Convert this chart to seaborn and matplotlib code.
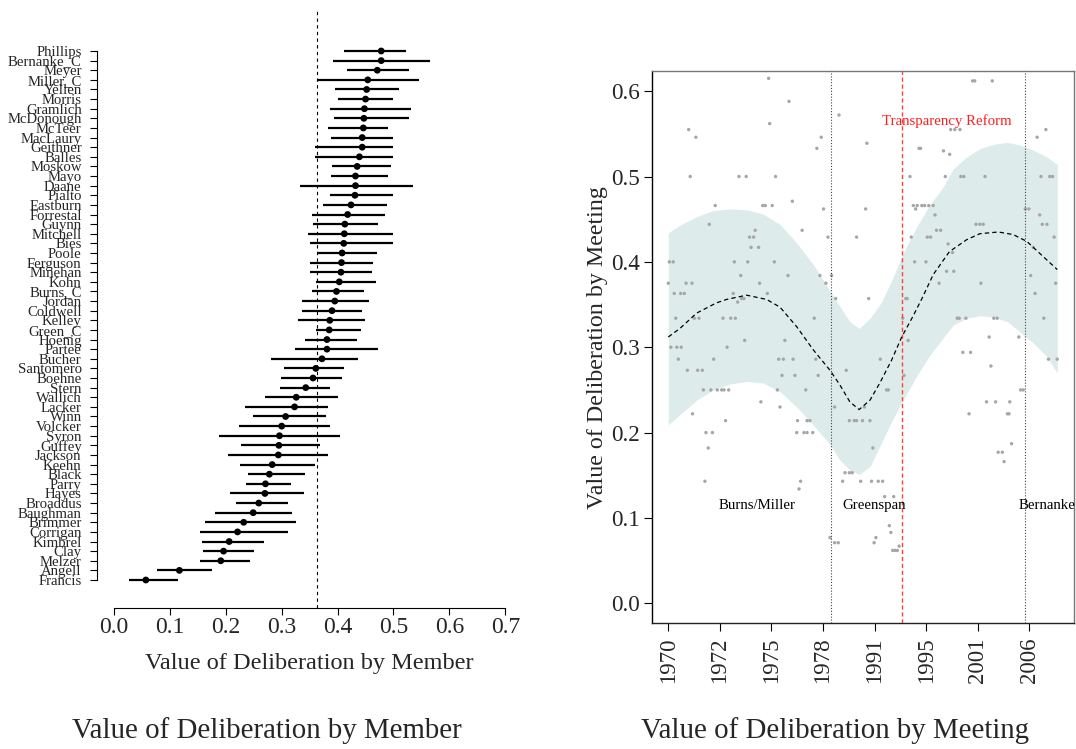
import numpy as np
import pandas as pd
import matplotlib
matplotlib.use("Agg")
import matplotlib.pyplot as plt
import seaborn as sns

# ---------------- data: left panel (members) ----------------
names = ["Phillips", "Bernanke_C", "Meyer", "Miller_C", "Yellen", "Morris", "Gramlich",
         "McDonough", "McTeer", "MacLaury", "Geithner", "Balles", "Moskow", "Mayo", "Daane",
         "Pialto", "Eastburn", "Forrestal", "Guynn", "Mitchell", "Bies", "Poole", "Ferguson",
         "Minehan", "Kohn", "Burns_C", "Jordan", "Coldwell", "Kelley", "Green_C", "Hoenig",
         "Partee", "Bucher", "Santomero", "Boehne", "Stern", "Wallich", "Lacker", "Winn",
         "Volcker", "Syron", "Guffey", "Jackson", "Keehn", "Black", "Parry", "Hayes",
         "Broaddus", "Baughman", "Brimmer", "Corrigan", "Kimbrel", "Clay", "Melzer",
         "Angell", "Francis"]
member_est = [0.478, 0.478, 0.471, 0.454, 0.452, 0.450, 0.448, 0.447, 0.446, 0.444,
              0.444, 0.439, 0.435, 0.432, 0.432, 0.431, 0.424, 0.418, 0.413, 0.412,
              0.411, 0.408, 0.407, 0.406, 0.403, 0.398, 0.395, 0.390, 0.386, 0.385,
              0.381, 0.381, 0.372, 0.361, 0.356, 0.343, 0.326, 0.323, 0.307, 0.300,
              0.296, 0.295, 0.294, 0.283, 0.278, 0.271, 0.270, 0.259, 0.249, 0.232,
              0.221, 0.206, 0.196, 0.191, 0.117, 0.057]
member_low = [0.412, 0.391, 0.416, 0.364, 0.396, 0.401, 0.387, 0.394, 0.382, 0.388,
              0.360, 0.359, 0.390, 0.388, 0.332, 0.386, 0.374, 0.354, 0.356, 0.347,
              0.351, 0.364, 0.351, 0.350, 0.361, 0.355, 0.337, 0.336, 0.329, 0.361,
              0.342, 0.323, 0.280, 0.304, 0.299, 0.297, 0.271, 0.234, 0.249, 0.224,
              0.188, 0.228, 0.204, 0.225, 0.239, 0.236, 0.208, 0.219, 0.181, 0.162,
              0.154, 0.157, 0.159, 0.153, 0.077, 0.027]
member_high = [0.522, 0.566, 0.528, 0.546, 0.510, 0.500, 0.531, 0.527, 0.490, 0.500,
               0.500, 0.500, 0.495, 0.490, 0.534, 0.500, 0.488, 0.484, 0.472, 0.500,
               0.500, 0.470, 0.463, 0.462, 0.468, 0.448, 0.456, 0.444, 0.449, 0.442,
               0.435, 0.472, 0.436, 0.411, 0.408, 0.386, 0.401, 0.383, 0.379, 0.386,
               0.404, 0.369, 0.383, 0.360, 0.342, 0.316, 0.340, 0.312, 0.318, 0.326,
               0.311, 0.268, 0.250, 0.243, 0.176, 0.114]
member_mean_line = 0.364
member_ticks = [0.0, 0.1, 0.2, 0.3, 0.4, 0.5, 0.6, 0.7]

# ---------------- data: right panel (meetings) ----------------
meeting_x = [38.9, 46.8, 39.3, 7.9, 10.7, 59.3, 57.6, 8.5, 27.4, 30.2, 41.6, 18.2, 36.6, 37.6,
             40.3, 48.1, 60.2, 15.9, 33.7, 51.9, 31.5, 33.1, 61.9, 32.1, 35.0, 0.4, 1.9, 25.6,
             30.8, 41.1, 28.1, 46.4, 58.8, 0.0, 6.9, 9.2, 35.4, 61.1, 2.3, 4.8, 6.2, 25.2, 38.4,
             28.4, 29.3, 26.9,
             2.9, 10.1, 11.9, 21.2, 24.2, 26.0, 56.6, 29.6, 45.2, 1.0, 3.3, 5.0, 22.8, 3.9, 17.6,
             42.8, 44.6, 48.4, 57.2, 7.4, 11.4, 13.2, 44.1, 49.1, 58.1, 13.6, 16.5, 19.0, 20.7,
             21.6, 23.4, 42.3, 53.3, 35.9, 43.3, 9.4, 22.2, 50.1, 53.8, 54.9, 14.6, 17.1, 49.8,
             52.6, 53.8, 56.0, 15.5, 14.2, 51.3, 50.7, 62.7,
             118.0, 118.8, 125.6, 66.2, 109.5, 111.1, 113.1, 146.4, 143.0, 77.0, 97.2, 97.8,
             106.7, 109.1, 93.7, 107.4, 113.4, 114.6, 122.8, 144.5, 147.9, 149.0, 76.5, 95.0,
             96.5, 98.3, 99.4, 101.0, 102.7, 95.9, 103.4, 138.4, 139.8, 144.0, 119.3, 120.8,
             122.1, 145.0, 146.8, 104.0, 105.6, 73.0, 94.2, 100.4, 101.7, 149.6, 108.5, 110.2,
             141.5, 95.5, 99.9, 107.9, 110.7, 140.5, 105.0, 121.2, 150.2, 63.3, 142.2, 64.9,
             77.7, 92.1, 92.6,
             112.0, 112.8, 115.4, 126.2, 127.5, 145.6, 90.9, 93.0, 124.4, 135.9, 114.2, 117.2,
             147.4, 150.8, 82.2, 125.1, 69.0, 91.4, 84.6, 85.3, 136.6, 137.6, 123.4, 126.9,
             132.4, 64.5, 76.0, 116.6, 131.5, 132.1, 70.2, 72.1, 73.0, 75.3, 78.2, 133.1, 79.3,
             127.9, 129.5, 130.2, 68.5, 70.2, 71.3, 67.6, 74.6, 78.8, 81.4, 83.1, 83.9, 87.4,
             85.7, 86.3, 64.5, 65.9, 80.5, 79.8, 89.5, 87.0, 87.9, 88.8]
meeting_val = [0.615, 0.588, 0.562, 0.555, 0.546, 0.546, 0.533, 0.500, 0.500, 0.500, 0.500,
               0.466, 0.466, 0.466, 0.466, 0.471, 0.462, 0.444, 0.437, 0.437, 0.429, 0.429,
               0.429, 0.417, 0.417, 0.400, 0.400, 0.400, 0.400, 0.400, 0.384, 0.384, 0.384,
               0.375, 0.375, 0.375, 0.375, 0.375, 0.363, 0.363, 0.363, 0.363, 0.363, 0.357,
               0.357, 0.353,
               0.334, 0.334, 0.334, 0.334, 0.334, 0.334, 0.334, 0.308, 0.308, 0.300, 0.300,
               0.300, 0.300, 0.286, 0.286, 0.286, 0.286, 0.286, 0.286, 0.273, 0.273, 0.273,
               0.267, 0.267, 0.267, 0.250, 0.250, 0.250, 0.250, 0.250, 0.250, 0.250, 0.250,
               0.236, 0.230, 0.222, 0.214, 0.214, 0.214, 0.214, 0.200, 0.200, 0.200, 0.200,
               0.200, 0.200, 0.182, 0.143, 0.143, 0.134, 0.077,
               0.612, 0.612, 0.612, 0.572, 0.555, 0.555, 0.555, 0.555, 0.546, 0.539, 0.533,
               0.533, 0.530, 0.526, 0.500, 0.500, 0.500, 0.500, 0.500, 0.500, 0.500, 0.500,
               0.462, 0.466, 0.466, 0.466, 0.466, 0.466, 0.466, 0.462, 0.455, 0.462, 0.462,
               0.455, 0.444, 0.444, 0.444, 0.444, 0.444, 0.437, 0.437, 0.429, 0.429, 0.429,
               0.429, 0.429, 0.421, 0.411, 0.417, 0.400, 0.400, 0.389, 0.389, 0.384, 0.375,
               0.375, 0.375, 0.384, 0.363, 0.357, 0.357, 0.357, 0.357,
               0.334, 0.334, 0.334, 0.334, 0.334, 0.334, 0.334, 0.308, 0.312, 0.312, 0.294,
               0.294, 0.286, 0.286, 0.286, 0.278, 0.273, 0.267, 0.250, 0.250, 0.250, 0.250,
               0.236, 0.236, 0.236, 0.230, 0.230, 0.222, 0.222, 0.222, 0.214, 0.214, 0.214,
               0.214, 0.214, 0.187, 0.182, 0.177, 0.177, 0.166, 0.153, 0.153, 0.153, 0.143,
               0.143, 0.143, 0.143, 0.143, 0.125, 0.125, 0.091, 0.083, 0.071, 0.071, 0.077,
               0.071, 0.067, 0.062, 0.062, 0.062]

# smooth fit (dashed line)
fit_x = [0, 4.5, 11, 18.7, 22.6, 30.4, 38.1, 43.3, 49.8, 56.2, 62.7, 66.5, 70.4, 74,
         78.2, 82, 86.6, 90.5, 95, 98.5, 102.7, 109, 115.7, 120.8, 128, 133.7, 139, 144,
         150.8]
fit_y = [0.312, 0.322, 0.340, 0.352, 0.356, 0.361, 0.356, 0.347, 0.324, 0.297, 0.273,
         0.256, 0.236, 0.227, 0.238, 0.258, 0.285, 0.312, 0.337, 0.358, 0.385, 0.412,
         0.426, 0.433, 0.435, 0.432, 0.424, 0.410, 0.391]

# confidence band
band_x = [0, 4.5, 11, 17.4, 24, 30.4, 36.8, 43.3, 49.8, 56.2, 62.7, 66.5, 70.4, 74, 78.2,
          82.5, 86.6, 91, 96.3, 101, 106.6, 110.5, 115.7, 121, 126.5, 131.5, 136.3, 141.5,
          146.7, 150.8]
band_hi = [0.434, 0.443, 0.453, 0.460, 0.462, 0.461, 0.456, 0.444, 0.422, 0.397, 0.366,
           0.348, 0.330, 0.322, 0.334, 0.352, 0.378, 0.410, 0.441, 0.465, 0.488, 0.509,
           0.523, 0.533, 0.538, 0.540, 0.537, 0.531, 0.523, 0.514]
band_lo = [0.209, 0.221, 0.238, 0.250, 0.257, 0.260, 0.258, 0.248, 0.230, 0.209, 0.186,
           0.168, 0.156, 0.151, 0.160, 0.187, 0.213, 0.238, 0.266, 0.289, 0.311, 0.326,
           0.334, 0.337, 0.335, 0.330, 0.318, 0.305, 0.289, 0.270]

year_tick_pos = [0, 20, 40, 60, 80, 100, 120, 140]
year_tick_labels = ["1970", "1972", "1975", "1978", "1991", "1995", "2001", "2006"]
meeting_y_ticks = [0.0, 0.1, 0.2, 0.3, 0.4, 0.5, 0.6]

era_lines = [62.9, 138.4]
reform_line = 90.8
era_labels = [("Burns/Miller", 34.3, "center"), ("Greenspan", 79.8, "center"),
              ("Bernanke", 136.0, "left")]

# ---------------- style ----------------
sns.set_theme(style="white")
plt.rcParams['font.family'] = ['Liberation Serif', 'DejaVu Serif']
plt.rcParams['axes.edgecolor'] = 'black'

W, H = 1076, 749
fig = plt.figure(figsize=(W / 100, H / 100), dpi=100)

# ---------------- left panel ----------------
axL = fig.add_axes([97 / W, 1 - 608 / H, 423 / W, 600 / H])
n = len(names)
pos = list(range(n - 1, -1, -1))
dfm = pd.DataFrame({"name": names, "est": member_est, "low": member_low,
                    "high": member_high, "pos": pos})
axL.hlines(dfm["pos"], dfm["low"], dfm["high"], color="black", lw=1.6, zorder=2)
sns.scatterplot(data=dfm, x="est", y="pos", ax=axL, color="black", s=24,
                edgecolor="none", zorder=3, legend=False)
axL.axvline(member_mean_line, color="black", lw=0.8, ls=(0, (3, 3)), zorder=1)
axL.set_xlim(-0.0304, 0.7263)
axL.set_ylim(-2.911, 59.47)
axL.set_yticks(pos)
axL.set_yticklabels(names, fontsize=10.6)
axL.set_xticks(member_ticks)
axL.set_xticklabels([f"{v:.1f}" for v in member_ticks], fontsize=17)
for s in ["top", "right"]:
    axL.spines[s].set_visible(False)
axL.spines["left"].set_bounds(0, n - 1)
axL.spines["bottom"].set_bounds(0, 0.7)
for s in ["left", "bottom"]:
    axL.spines[s].set_linewidth(0.8)
    axL.spines[s].set_color("black")
axL.tick_params(axis="y", direction="out", length=5, width=0.8, pad=6, color="black", left=True)
axL.tick_params(axis="x", direction="out", length=5, width=0.8, pad=1.5, color="black", bottom=True)
axL.set_xlabel("Value of Deliberation by Member", fontsize=17.5, va="center")
axL.xaxis.set_label_coords((309.5 - 97) / 423, -(663 - 608) / 600)
axL.set_ylabel("")

# ---------------- right panel ----------------
axR = fig.add_axes([652.3 / W, 1 - 623.3 / H, 421.7 / W, 552.3 / H])
axR.fill_between(band_x, band_lo, band_hi, color="#ddecea", lw=0, zorder=1)
sns.scatterplot(x=meeting_x, y=meeting_val, ax=axR, color="#a6a6a6", s=6,
                edgecolor="none", zorder=2, legend=False)
for xv in era_lines:
    axR.axvline(xv, color="#444444", lw=0.8, ls=(0, (1, 1.6)), zorder=3)
axR.axvline(reform_line, color="#ff4040", lw=1.0, ls=(0, (3, 2)), zorder=3)
sns.lineplot(x=fit_x, y=fit_y, ax=axR, color="black", lw=0.9, zorder=4)
axR.lines[-1].set_linestyle((0, (3.5, 2.5)))
axR.set_xlim(-6.2, 157.3)
axR.set_ylim(-0.0234, 0.6236)
axR.set_xticks(year_tick_pos)
axR.set_xticklabels(year_tick_labels, rotation=90, fontsize=16.5)
axR.set_yticks(meeting_y_ticks)
axR.set_yticklabels([f"{v:.1f}" for v in meeting_y_ticks], fontsize=16.7)
axR.tick_params(axis="both", direction="out", length=6, width=0.8, color="black",
                left=True, bottom=True)
axR.tick_params(axis="x", pad=4)
axR.tick_params(axis="y", pad=3)
axR.spines["left"].set_color("black")
axR.spines["bottom"].set_color("#222222")
axR.spines["top"].set_color("#777777")
axR.spines["right"].set_color("#777777")
for s in axR.spines.values():
    s.set_linewidth(1.0)
axR.set_ylabel("Value of Deliberation by Meeting", fontsize=17.3, va="center")
axR.yaxis.set_label_coords((597 - 652.3) / 421.7, 0.5)
axR.set_xlabel("")

axR.text(107.9, 0.565, "Transparency Reform", color="#ff2020", fontsize=10.7,
         ha="center", va="center", zorder=5)
for lab, xv, ha in era_labels:
    axR.text(xv, 0.115, lab, color="black", fontsize=10.7, ha=ha, va="center",
             zorder=5, clip_on=False)

# ---------------- sub-captions ----------------
fig.text(267 / W, 1 - 731 / H, "Value of Deliberation by Member", fontsize=20.8,
         ha="center", va="center")
fig.text(835 / W, 1 - 731 / H, "Value of Deliberation by Meeting", fontsize=20.8,
         ha="center", va="center")

fig.savefig("out.png", dpi=100)
